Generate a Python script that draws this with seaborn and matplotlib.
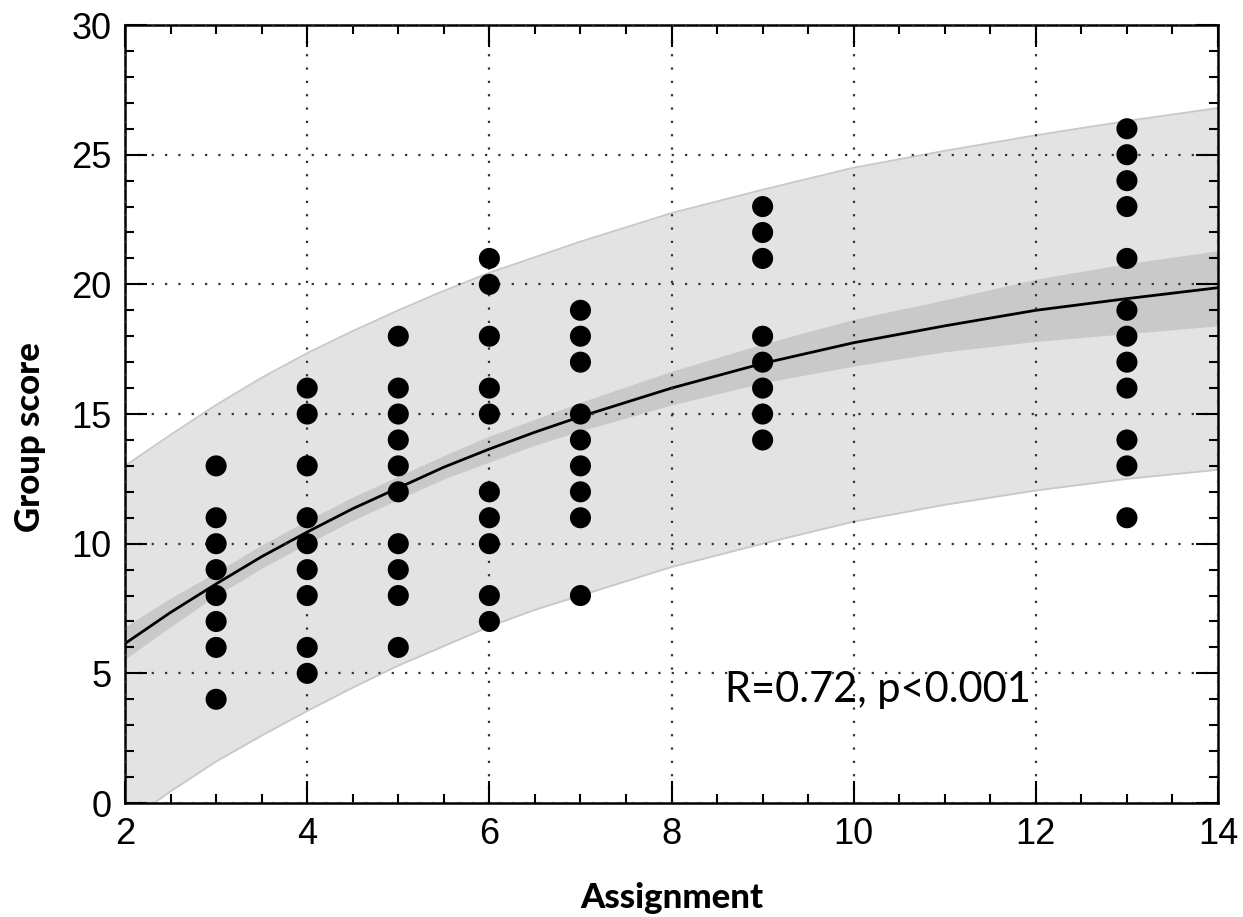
import numpy as np
import pandas as pd
import matplotlib
matplotlib.use("Agg")
import matplotlib.pyplot as plt
import seaborn as sns
from matplotlib.ticker import MultipleLocator

# observed scores per assignment
scores = {
    3: [13, 11, 10, 9, 8, 7, 6, 4],
    4: [16, 15, 13, 11, 10, 9, 8, 6, 5],
    5: [18, 16, 15, 14, 13, 12, 10, 9, 8, 6],
    6: [21, 20, 18, 16, 15, 12, 11, 10, 8, 7],
    7: [19, 18, 17, 15, 14, 13, 12, 11, 8],
    9: [23, 22, 21, 18, 17, 16, 15, 14],
    13: [26, 25, 24, 23, 21, 19, 18, 17, 16, 14, 13, 11],
}

# fitted curve and bands
fit_x = [2, 2.5, 3, 3.5, 4, 4.5, 5, 5.5, 6, 6.5, 7, 8, 9, 10, 11, 12, 13, 14]
fit_mid = [6.15, 7.35, 8.45, 9.5, 10.45, 11.35, 12.15, 12.95, 13.65, 14.3, 14.9,
           16.0, 16.95, 17.75, 18.4, 19.0, 19.45, 19.87]
ci_hi = [6.8, 7.9, 8.9, 9.95, 10.9, 11.8, 12.6, 13.4, 14.15, 14.8, 15.45,
         16.65, 17.7, 18.65, 19.4, 20.2, 20.8, 21.3]
ci_lo = [5.55, 6.8, 8.0, 9.05, 10.0, 10.9, 11.7, 12.5, 13.15, 13.8, 14.35,
         15.35, 16.2, 16.85, 17.4, 17.8, 18.1, 18.4]
pi_hi = [13.0, 14.2, 15.35, 16.4, 17.35, 18.2, 19.0, 19.75, 20.45, 21.05, 21.65,
         22.75, 23.65, 24.5, 25.15, 25.75, 26.3, 26.8]
pi_lo = [-0.8, 0.45, 1.6, 2.6, 3.55, 4.45, 5.3, 6.05, 6.8, 7.45, 8.0,
         9.1, 10.0, 10.85, 11.5, 12.05, 12.5, 12.85]

stat_text = "R=0.72, p<0.001"

df = pd.DataFrame([(a, s) for a, vals in scores.items() for s in vals],
                  columns=["Assignment", "Group score"])
fit = pd.DataFrame({"x": fit_x, "mid": fit_mid, "ci_lo": ci_lo, "ci_hi": ci_hi,
                    "pi_lo": pi_lo, "pi_hi": pi_hi})

sns.set_style("ticks")
plt.rcParams["font.family"] = ["Liberation Sans", "DejaVu Sans"]
plt.rcParams.update({"text.color": "black", "axes.labelcolor": "black",
                     "xtick.color": "black", "ytick.color": "black",
                     "xtick.labelcolor": "black", "ytick.labelcolor": "black"})

fig, ax = plt.subplots(figsize=(12.43, 9.17), dpi=100)
fig.subplots_adjust(left=0.1006, right=0.9799, top=0.9727, bottom=0.1243)

# prediction band
ax.fill_between(fit["x"], fit["pi_lo"], fit["pi_hi"], color="#e3e3e3", lw=0, zorder=1)
sns.lineplot(data=fit, x="x", y="pi_hi", color="#c8c8c8", lw=1.3, ax=ax, zorder=1.1)
sns.lineplot(data=fit, x="x", y="pi_lo", color="#c8c8c8", lw=1.3, ax=ax, zorder=1.1)
# confidence band
ax.fill_between(fit["x"], fit["ci_lo"], fit["ci_hi"], color="#c9c9c9", lw=0, zorder=1.2)
sns.lineplot(data=fit, x="x", y="mid", color="black", lw=2.0, ax=ax, zorder=2)

sns.scatterplot(data=df, x="Assignment", y="Group score", color="black",
                s=230, edgecolor="none", ax=ax, zorder=3)

ax.set_xlim(2, 14)
ax.set_ylim(0, 30)
ax.xaxis.set_major_locator(MultipleLocator(2))
ax.xaxis.set_minor_locator(MultipleLocator(0.5))
ax.yaxis.set_major_locator(MultipleLocator(5))
ax.yaxis.set_minor_locator(MultipleLocator(1))

ax.set_axisbelow(False)
ax.grid(True, which="major", linestyle=(0, (1, 5)), linewidth=1.6, color="#333333")

for sp in ax.spines.values():
    sp.set_visible(True)
    sp.set_linewidth(1.8)
    sp.set_color("black")

ax.tick_params(which="both", direction="in", top=True, right=True, width=1.5,
               color="black", labelcolor="black")
ax.tick_params(which="major", length=16, labelsize=26, pad=10)
ax.tick_params(which="minor", length=6.5)

lab_font = dict(family=["Lato", "DejaVu Sans"], fontweight="black", fontsize=25)
ax.set_xlabel("Assignment", labelpad=22, **lab_font)
ax.set_ylabel("Group score", **lab_font)
ax.yaxis.set_label_coords(-0.072, 0.47)

ax.text(8.59, 3.9, stat_text, family=["Lato", "DejaVu Sans"], fontsize=30,
        va="baseline", ha="left", color="black", zorder=4)

fig.savefig("out.png", dpi=100)
